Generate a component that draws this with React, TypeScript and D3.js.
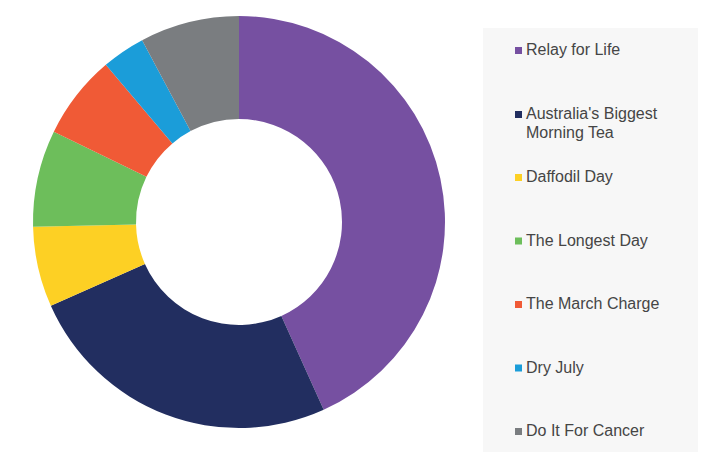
import { useEffect, useRef } from 'react';
import * as d3 from 'd3';

const categories = [
  'Relay for Life',
  "Australia's Biggest Morning Tea",
  'Daffodil Day',
  'The Longest Day',
  'The March Charge',
  'Dry July',
  'Do It For Cancer',
];
const shares = [43.3, 25.1, 6.3, 7.6, 6.6, 3.4, 7.8];
const colors = ['#7650a1', '#222e60', '#fdd024', '#6dbe5b', '#f05a36', '#1b9dd9', '#7a7d80'];
const legendLines = [
  ['Relay for Life'],
  ["Australia's Biggest", 'Morning Tea'],
  ['Daffodil Day'],
  ['The Longest Day'],
  ['The March Charge'],
  ['Dry July'],
  ['Do It For Cancer'],
];

type Slice = { label: string; value: number; fill: string };

export default function App() {
  const svgRef = useRef<SVGSVGElement>(null);

  useEffect(() => {
    if (!svgRef.current) return;
    const width = 706;
    const height = 456;
    const cx = 239;
    const cy = 222;
    const outer = 206;
    const inner = 103;

    const svg = d3.select(svgRef.current);
    svg.selectAll('*').remove();
    svg.attr('width', width).attr('height', height);

    const data: Slice[] = categories.map((label, i) => ({ label, value: shares[i], fill: colors[i] }));

    const pie = d3.pie<Slice>().value((d) => d.value).sort(null);
    const arc = d3.arc<d3.PieArcDatum<Slice>>().innerRadius(inner).outerRadius(outer);

    const g = svg.append('g').attr('transform', `translate(${cx},${cy})`);
    g.selectAll('path')
      .data(pie(data))
      .join('path')
      .attr('d', arc)
      .attr('fill', (d) => d.data.fill);

    // Legend panel
    svg.append('rect')
      .attr('x', 483)
      .attr('y', 28)
      .attr('width', 215)
      .attr('height', 424)
      .attr('fill', '#f7f7f7');

    const rowY = d3.scalePoint<number>()
      .domain(d3.range(categories.length))
      .range([49, 430]);

    const items = svg.append('g')
      .selectAll('g')
      .data(data)
      .join('g')
      .attr('transform', (_, i) => `translate(515,${legendLines[i].length > 1 ? 113 : rowY(i)})`);

    items.append('rect')
      .attr('x', 0)
      .attr('y', -2)
      .attr('width', 7)
      .attr('height', 7)
      .attr('fill', (d) => d.fill);

    items.append('text')
      .attr('x', 11)
      .attr('y', 6)
      .style('font-family', "'Liberation Sans', Arial, sans-serif")
      .attr('font-size', '16px')
      .attr('fill', '#454545')
      .selectAll('tspan')
      .data((_, i) => legendLines[i])
      .join('tspan')
      .attr('x', 11)
      .attr('dy', (_, j) => (j === 0 ? 0 : 19))
      .text((t) => t);
  }, []);

  return (
    <div style={{ position: 'absolute', left: 0, top: 0, background: '#fff' }}>
      <svg ref={svgRef} style={{ display: 'block' }} />
    </div>
  );
}
